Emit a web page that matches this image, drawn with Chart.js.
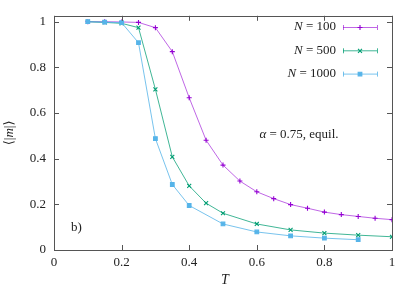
<!DOCTYPE html>
<html>
<head>
<meta charset="utf-8">
<script src="https://cdn.jsdelivr.net/npm/chart.js@4/dist/chart.umd.min.js"></script>
<style>
  html, body { margin: 0; padding: 0; background: #fff; }
  #wrap { width: 415px; height: 291px; }
</style>
</head>
<body>
<div id="wrap"><canvas id="chart" width="415" height="291"></canvas></div>
<script>
// temperature grid for each system size
const tN100 = [0.1, 0.15, 0.2, 0.25, 0.3, 0.35, 0.4, 0.45, 0.5, 0.55, 0.6, 0.65, 0.7, 0.75, 0.8, 0.85, 0.9, 0.95, 1.0];
const mN100 = [1.0, 1.0, 0.999, 0.997, 0.974, 0.869, 0.667, 0.481, 0.372, 0.302, 0.255, 0.225, 0.199, 0.183, 0.166, 0.155, 0.147, 0.139, 0.133];

const tN500 = [0.1, 0.15, 0.2, 0.25, 0.3, 0.35, 0.4, 0.45, 0.5, 0.6, 0.7, 0.8, 0.9, 1.0];
const mN500 = [1.0, 0.997, 0.993, 0.974, 0.704, 0.408, 0.281, 0.205, 0.161, 0.114, 0.088, 0.074, 0.065, 0.058];

const tN1000 = [0.1, 0.15, 0.2, 0.25, 0.3, 0.35, 0.4, 0.5, 0.6, 0.7, 0.8, 0.9];
const mN1000 = [1.0, 0.998, 0.996, 0.908, 0.488, 0.287, 0.195, 0.114, 0.079, 0.062, 0.052, 0.045];

const seriesLabels = ['100', '500', '1000'];
const xTickVals = [0, 0.2, 0.4, 0.6, 0.8, 1];
const yTickVals = [0, 0.2, 0.4, 0.6, 0.8, 1];

const colors = ['rgb(148,0,211)', 'rgb(0,158,115)', 'rgb(86,180,233)'];
const lineColors = ['rgba(148,0,211,0.6)', 'rgba(0,158,115,0.75)', 'rgba(86,180,233,0.8)'];
const markers = ['cross', 'crossRot', 'rect'];
const markerSize = [2.5, 2.8, 2.6];

const SERIF = '"Liberation Serif", "DejaVu Serif", serif';

function pts(xs, ys) {
    return xs.map((x, i) => ({ x: x, y: ys[i] }));
}

// N=1000 ends up on top, like the reference
const datasets = [[tN100, mN100], [tN500, mN500], [tN1000, mN1000]].map((d, i) => ({
    label: 'N = ' + seriesLabels[i],
    data: pts(d[0], d[1]),
    order: 2 - i,
    borderColor: lineColors[i],
    backgroundColor: colors[i],
    pointBorderColor: colors[i],
    pointBackgroundColor: colors[i],
    pointStyle: markers[i],
    pointRadius: markerSize[i],
    pointBorderWidth: 1.1,
    borderWidth: 1,
    tension: 0,
    fill: false
}));

// draws "N = 100" style strings: italic part then upright part
function mathText(ctx, x, y, italic, rest, size, align) {
    ctx.font = 'italic ' + size + 'px ' + SERIF;
    const wi = ctx.measureText(italic).width;
    ctx.font = size + 'px ' + SERIF;
    const wr = ctx.measureText(rest).width;
    let start = x;
    if (align === 'right') start = x - wi - wr;
    if (align === 'center') start = x - (wi + wr) / 2;
    ctx.textAlign = 'left';
    ctx.font = 'italic ' + size + 'px ' + SERIF;
    ctx.fillText(italic, start, y);
    ctx.font = size + 'px ' + SERIF;
    ctx.fillText(rest, start + wi, y);
}

const framePlugin = {
    id: 'frame',
    afterDraw(chart) {
        const ctx = chart.ctx;
        const a = chart.chartArea;
        const xs = chart.scales.x, ys = chart.scales.y;
        ctx.save();
        ctx.strokeStyle = '#555';
        ctx.lineWidth = 1;
        ctx.strokeRect(Math.round(a.left) + 0.5, Math.round(a.top) + 0.5,
            Math.round(a.right - a.left), Math.round(a.bottom - a.top));
        // inward ticks, mirrored on all sides
        const tl = 5;
        ctx.beginPath();
        xTickVals.forEach(v => {
            const px = Math.round(xs.getPixelForValue(v)) + 0.5;
            ctx.moveTo(px, a.bottom); ctx.lineTo(px, a.bottom - tl);
            ctx.moveTo(px, a.top); ctx.lineTo(px, a.top + tl);
        });
        yTickVals.forEach(v => {
            const py = Math.round(ys.getPixelForValue(v)) + 0.5;
            ctx.moveTo(a.left, py); ctx.lineTo(a.left + tl, py);
            ctx.moveTo(a.right, py); ctx.lineTo(a.right - tl, py);
        });
        ctx.stroke();

        ctx.fillStyle = '#222';
        ctx.textBaseline = 'middle';
        // axis titles
        mathText(ctx, (a.left + a.right) / 2 + 2, 280, 'T', '', 14, 'center');
        ctx.save();
        ctx.translate(10, (a.top + a.bottom) / 2);
        ctx.rotate(-Math.PI / 2);
        ctx.font = '13px ' + SERIF;
        const p1 = '\u27E8|', p2 = 'm', p3 = '|\u27E9';
        const w1 = ctx.measureText(p1).width, w3 = ctx.measureText(p3).width;
        ctx.font = 'italic 13px ' + SERIF;
        const w2 = ctx.measureText(p2).width;
        let sx = -(w1 + w2 + w3) / 2;
        ctx.textAlign = 'left';
        ctx.font = '13px ' + SERIF; ctx.fillText(p1, sx, 0);
        ctx.font = 'italic 13px ' + SERIF; ctx.fillText(p2, sx + w1, 0);
        ctx.font = '13px ' + SERIF; ctx.fillText(p3, sx + w1 + w2, 0);
        ctx.restore();

        // annotations
        mathText(ctx, 299, 135, '\u03B1', ' = 0.75, equil.', 13, 'center');
        ctx.font = '13px ' + SERIF;
        ctx.textAlign = 'left';
        ctx.fillText('b)', 71, 228);

        // legend: text right aligned, then sample line with marker
        chart.data.datasets.forEach((ds, i) => {
            const y = 27 + i * 23.3;
            ctx.fillStyle = '#222';
            mathText(ctx, 336, y, 'N', ' = ' + seriesLabels[i], 13, 'right');
            const x0 = 343, x1 = 377;
            ctx.strokeStyle = lineColors[i];
            ctx.lineWidth = 1;
            ctx.beginPath();
            ctx.moveTo(x0, y + 0.5); ctx.lineTo(x1, y + 0.5);
            ctx.moveTo(x0 + 0.5, y - 2); ctx.lineTo(x0 + 0.5, y + 3);
            ctx.moveTo(x1 + 0.5, y - 2); ctx.lineTo(x1 + 0.5, y + 3);
            ctx.stroke();
            ctx.strokeStyle = colors[i];
            ctx.fillStyle = colors[i];
            ctx.lineWidth = 1.1;
            Chart.helpers.drawPoint(ctx, { pointStyle: markers[i], radius: markerSize[i], rotation: 0, borderWidth: 1.1 }, (x0 + x1) / 2, y + 0.5);
        });
        ctx.restore();
    }
};

const ctx = document.getElementById('chart').getContext('2d');
new Chart(ctx, {
    type: 'line',
    data: { datasets: datasets },
    options: {
        responsive: false,
        animation: false,
        layout: { padding: { left: 0, right: 23, top: 13, bottom: 0 } },
        plugins: {
            legend: { display: false },
            tooltip: { enabled: false }
        },
        scales: {
            x: {
                type: 'linear',
                min: 0,
                max: 1,
                afterFit: s => { s.height = 41; },
                afterBuildTicks: s => { s.ticks = xTickVals.map(v => ({ value: v })); },
                grid: { display: false, drawTicks: false },
                border: { display: false },
                ticks: {
                    padding: 5,
                    color: '#222',
                    font: { family: SERIF, size: 13 },
                    callback: v => String(Number(v.toFixed(1)))
                }
            },
            y: {
                type: 'linear',
                min: 0,
                max: 1.026,
                afterFit: s => { s.width = 54; },
                afterBuildTicks: s => { s.ticks = yTickVals.map(v => ({ value: v })); },
                grid: { display: false, drawTicks: false },
                border: { display: false },
                ticks: {
                    padding: 8,
                    color: '#222',
                    font: { family: SERIF, size: 13 },
                    callback: v => String(Number(v.toFixed(1)))
                }
            }
        }
    },
    plugins: [framePlugin]
});
</script>
</body>
</html>
